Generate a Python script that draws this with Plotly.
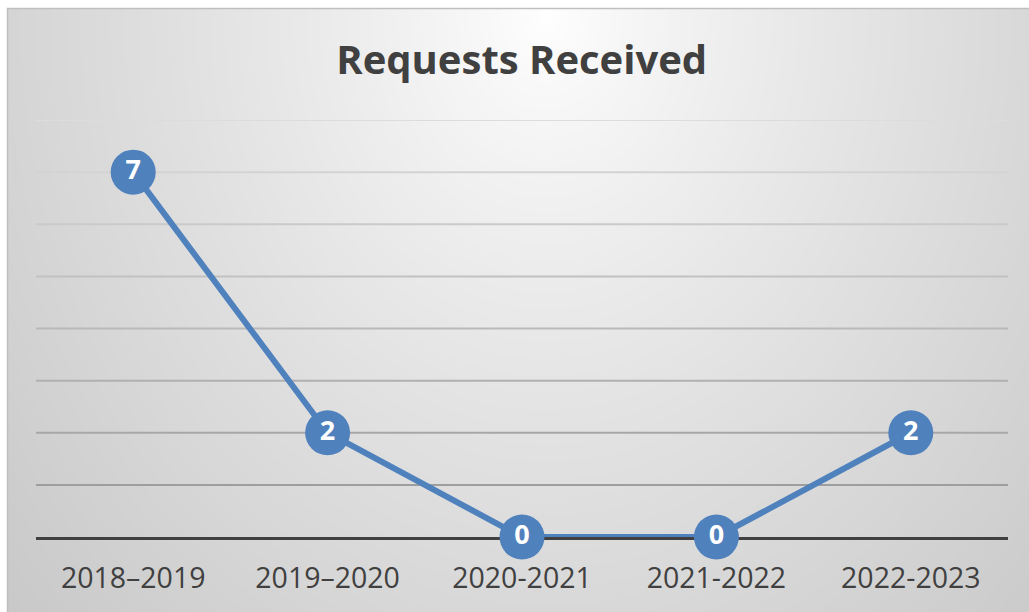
import base64, struct, zlib
import numpy as np
import plotly.graph_objects as go

# ---- data ----
categories = ["2018\u20132019", "2019\u20132020", "2020-2021", "2021-2022", "2022-2023"]
requests = [7, 2, 0, 0, 2]
y_ticks = [0, 1, 2, 3, 4, 5, 6, 7, 8]
title_text = "Requests Received"

W, H = 1029, 612
L, R, T, B = 36, 1008, 120, 537  # plot area pixels

# ---- gradient background png ----
fx0, fy0, fx1, fy1 = 7, 8, 1035, 620
gw, gh = fx1 - fx0, fy1 - fy0
xs = np.arange(gw) + fx0
ys = np.arange(gh) + fy0
X, Y = np.meshgrid(xs, ys)
cx, cy = 545.0, 15.0
dx = (X - cx) / 480.0
dy = (Y - cy) / 590.0
d = np.sqrt(dx ** 2 + dy ** 2)
val = 255 - 38 * d ** 0.85
img = np.clip(val, 0, 255).astype(np.uint8)

def png_gray(a):
    h, w = a.shape
    raw = b"".join(b"\x00" + a[i].tobytes() for i in range(h))
    def chunk(t, data):
        c = struct.pack(">I", len(data)) + t + data
        return c + struct.pack(">I", zlib.crc32(t + data) & 0xffffffff)
    return (b"\x89PNG\r\n\x1a\n" + chunk(b"IHDR", struct.pack(">IIBBBBB", w, h, 8, 0, 0, 0, 0))
            + chunk(b"IDAT", zlib.compress(raw, 9)) + chunk(b"IEND", b""))

src = "data:image/png;base64," + base64.b64encode(png_gray(img)).decode()

pw, ph = R - L, B - T
def px(x):
    return (x - L) / pw
def py(y):
    return (B - y) / ph

fig = go.Figure()
fig.add_trace(go.Scatter(
    x=categories, y=requests, mode="lines+markers+text",
    line=dict(color="#4f81bd", width=6),
    marker=dict(size=45, color="#4f81bd", line=dict(width=0)),
    text=[f"<b>{v}</b>" for v in requests], textposition="middle center",
    textfont=dict(family="Open Sans", size=27, color="white"),
    cliponaxis=False, hoverinfo="skip", showlegend=False,
))

shapes = []
# gridlines with shading gradient
for v in y_ticks[1:]:
    t = (v - 1) / (len(y_ticks) - 2)
    g = int(round(158 + t * (220 - 158)))
    shapes.append(dict(type="line", xref="paper", yref="y", x0=0, x1=1, y0=v, y1=v,
                       line=dict(color=f"rgb({g},{g},{g})", width=2), layer="below"))
# frame
shapes.append(dict(type="rect", xref="paper", yref="paper",
                   x0=px(fx0 + 0.5), x1=px(fx1 + 5), y0=py(fy0 + 0.5), y1=py(fy1 + 5),
                   line=dict(color="#bfbfbf", width=1.5), fillcolor="rgba(0,0,0,0)", layer="below"))

fig.update_layout(
    width=W, height=H,
    margin=dict(l=L, r=W - R, t=T, b=H - B),
    paper_bgcolor="white", plot_bgcolor="rgba(0,0,0,0)",
    title=dict(text=f"<b>{title_text}</b>", x=0.507, xanchor="center", y=1 - 60 / H, yanchor="middle",
               xref="container", yref="container",
               font=dict(family="Open Sans", size=40, color="#404040")),
    images=[dict(source=src, xref="paper", yref="paper", x=px(fx0), y=py(fy0),
                 sizex=gw / pw, sizey=gh / ph, xanchor="left", yanchor="top",
                 sizing="stretch", layer="below")],
    shapes=shapes,
    xaxis=dict(type="category", range=[-0.5, len(categories) - 0.5], showgrid=False,
               showline=True, linecolor="#404040", linewidth=3, layer="below traces",
               ticks="outside", ticklen=14, tickcolor="rgba(0,0,0,0)", fixedrange=True,
               tickfont=dict(family="Open Sans", size=28.5, color="#404040"), zeroline=False),
    yaxis=dict(range=[0, 8], tickvals=y_ticks, showgrid=False, showticklabels=False,
               zeroline=False, showline=False, fixedrange=True),
)

fig.write_html("out.html", config={"displayModeBar": False},
               post_script="document.body.style.margin='0';document.body.style.overflow='hidden';")
